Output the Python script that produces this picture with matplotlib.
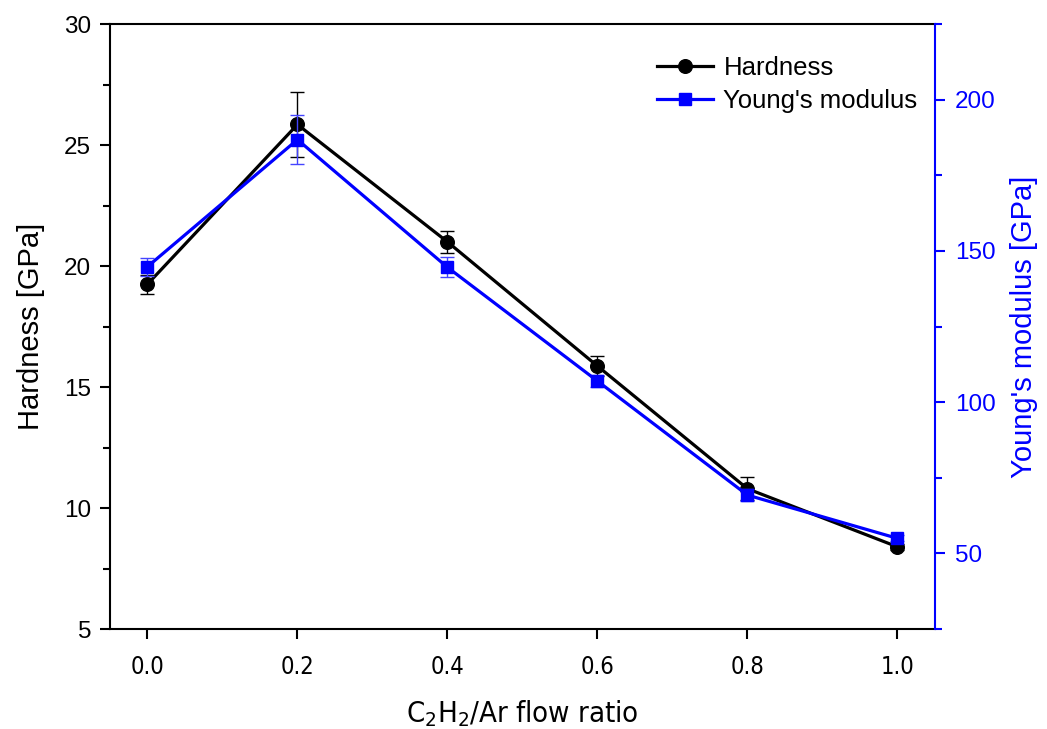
import matplotlib
matplotlib.use("Agg")
import matplotlib.pyplot as plt
from matplotlib.ticker import MultipleLocator
from matplotlib.lines import Line2D

plt.rcParams['font.family'] = ['Liberation Sans', 'DejaVu Sans']
plt.rcParams['mathtext.fontset'] = 'custom'
plt.rcParams['mathtext.rm'] = 'DejaVu Sans:stretch=condensed'

ratio = [0.0, 0.2, 0.4, 0.6, 0.8, 1.0]
hardness = [19.25, 25.85, 21.0, 15.87, 10.8, 8.4]
hardness_err = [0.4, 1.33, 0.45, 0.43, 0.48, 0.12]
modulus = [144.8, 186.8, 144.6, 107.0, 69.3, 55.0]
modulus_err = [3.0, 8.0, 3.3, 2.0, 2.0, 1.0]
xtick_labels = ['0.0', '0.2', '0.4', '0.6', '0.8', '1.0']

BLUE = '#0000ff'
fig = plt.figure(figsize=(10.47, 7.29), dpi=100)
ax = fig.add_axes([0.105, 0.137, 0.788, 0.830])
ax2 = ax.twinx()

ax.errorbar(ratio, hardness, yerr=hardness_err, color='black', lw=2.3,
            marker='o', ms=9.8, capsize=5, elinewidth=1.0, capthick=1.0,
            ecolor='black', zorder=3)
ax2.errorbar(ratio, modulus, yerr=modulus_err, color=BLUE, lw=2.3,
             marker='s', ms=8.7, capsize=5, elinewidth=1.0, capthick=1.0,
             ecolor='#4444ff', zorder=3)

ax.set_xlim(-0.05, 1.05)
ax.set_ylim(5, 30)
ax2.set_ylim(25, 225)

ax.set_xticks(ratio)
ax.set_xticklabels(xtick_labels, family='DejaVu Sans', stretch='condensed',
                   fontsize=17)
ax.yaxis.set_major_locator(MultipleLocator(5))
ax.yaxis.set_minor_locator(MultipleLocator(2.5))
ax2.yaxis.set_major_locator(MultipleLocator(50))
ax2.yaxis.set_minor_locator(MultipleLocator(25))
ax2.set_yticks([50, 100, 150, 200])

for s in ['left', 'bottom', 'top']:
    ax.spines[s].set_linewidth(1.5)
ax.spines['right'].set_visible(False)
for s in ['left', 'bottom', 'top']:
    ax2.spines[s].set_visible(False)
ax2.spines['right'].set_color(BLUE)
ax2.spines['right'].set_linewidth(1.5)

ax.tick_params(axis='y', which='major', direction='out', length=7.5, width=1.5,
               labelsize=17.5, pad=6)
ax.tick_params(axis='y', which='minor', direction='out', length=5, width=1.5)
ax.tick_params(axis='x', which='major', direction='out', length=7.5, width=1.5,
               pad=11)
ax.tick_params(axis='x', which='minor', bottom=False)
ax2.tick_params(axis='y', which='major', direction='out', length=7.5, width=1.5,
                colors=BLUE, labelsize=17.5, pad=7)
ax2.tick_params(axis='y', which='minor', direction='out', length=5, width=1.5,
                colors=BLUE)

ax.set_ylabel('Hardness [GPa]', fontsize=21, labelpad=14)
ax2.set_ylabel("Young's modulus [GPa]", fontsize=21, color=BLUE, labelpad=10)
ax.set_xlabel('C$_2$H$_2$/Ar flow ratio', fontsize=21, labelpad=14,
              family='DejaVu Sans', stretch='condensed')

handles = [Line2D([], [], color='black', lw=2.3, marker='o', ms=9.8),
           Line2D([], [], color=BLUE, lw=2.3, marker='s', ms=8.7)]
ax.legend(handles, ['Hardness', "Young's modulus"], loc='upper right',
          frameon=False, fontsize=18.5, handlelength=2.2, handletextpad=0.4,
          borderaxespad=0.5, labelspacing=0.35, bbox_to_anchor=(1.007, 0.986))

fig.savefig('out.png', dpi=100)
